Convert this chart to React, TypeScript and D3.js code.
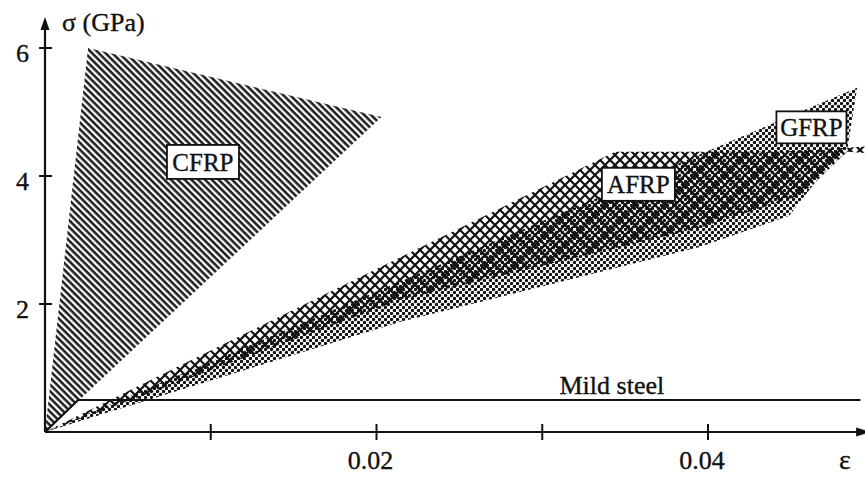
import React from "react";
import * as d3 from "d3";

// strain (-) / stress (GPa) values
const strainTicks = [0.01, 0.02, 0.03, 0.04];
const strainTickLabels = ["", "0.02", "", "0.04"];
const stressTicks = [2, 4, 6];
const stressTickLabels = ["2", "4", "6"];

const cfrp: [number, number][] = [
  [0, 0],
  [0.0026, 6.0],
  [0.0203, 4.92],
];

const afrp: [number, number][] = [
  [0, 0],
  [0.0344, 4.38],
  [0.0442, 4.38],
  [0.0484, 4.44],
  [0.0495, 4.46],
  [0.0495, 4.36],
  [0.0484, 4.38],
  [0.0465, 3.91],
  [0.0456, 3.7],
  [0.0395, 3.19],
  [0.0214, 2.06],
];

const gfrp: [number, number][] = [
  [0, 0],
  [0.049, 5.38],
  [0.0484, 4.41],
  [0.0465, 3.91],
  [0.0449, 3.38],
  [0.0395, 2.89],
  [0.0214, 1.72],
];

const mildSteel: [number, number][] = [
  [0, 0],
  [0.002, 0.5],
  [0.0492, 0.5],
];

const materials = ["CFRP", "AFRP", "GFRP"];

const W = 865;
const H = 478;
const font = "'Liberation Serif', 'Times New Roman', serif";
const ink = "#111";

export default function App() {
  const x = d3.scaleLinear().domain([0, 0.04]).range([45, 708]);
  const y = d3.scaleLinear().domain([0, 6]).range([432, 48]);

  const area = d3
    .line<[number, number]>()
    .x((d) => x(d[0]))
    .y((d) => y(d[1]))
    .curve(d3.curveLinearClosed);
  const line = d3
    .line<[number, number]>()
    .x((d) => x(d[0]))
    .y((d) => y(d[1]));

  // label boxes: [strain, stress, width, height]
  const boxes: [number, number, number, number][] = [
    [0.00953, 4.22, 72, 34],
    [0.0358, 3.87, 73, 33],
    [0.04624, 4.76, 70, 32],
  ];

  const x0 = x(0);
  const y0 = y(0);
  const xEnd = x(0.0496);
  const yTop = y(6.5);

  const txt = { fill: ink, stroke: ink, strokeWidth: 0.35 };

  return (
    <svg
      width={W}
      height={H}
      style={{ position: "absolute", left: 0, top: 0, background: "#fff" }}
      fontFamily={font}
    >
      <defs>
        <pattern
          id="hatch"
          patternUnits="userSpaceOnUse"
          width={4.8}
          height={4.8}
          patternTransform="rotate(45)"
        >
          <rect width={4.8} height={4.8} fill="#fff" />
          <line x1={0} y1={1.3} x2={4.8} y2={1.3} stroke="#1a1a1a" strokeWidth={2.5} />
        </pattern>
        <pattern id="cross" patternUnits="userSpaceOnUse" width={10} height={10}>
          <path d="M0,0L10,10M10,0L0,10" stroke="#111" strokeWidth={2.2} />
        </pattern>
        <pattern id="dots" patternUnits="userSpaceOnUse" width={6} height={6}>
          <rect width={6} height={6} fill="#fff" />
          <circle cx={1.5} cy={1.5} r={1.7} fill="#111" />
          <circle cx={4.5} cy={4.5} r={1.7} fill="#111" />
        </pattern>
      </defs>

      {/* regions */}
      <path d={area(gfrp) ?? ""} fill="url(#dots)" />
      <path d={area(afrp) ?? ""} fill="url(#cross)" />
      <path d={area(cfrp) ?? ""} fill="url(#hatch)" />

      {/* mild steel */}
      <path d={line(mildSteel) ?? ""} fill="none" stroke={ink} strokeWidth={2.2} />
      <text x={x(0.0342)} y={y(0.6)} textAnchor="middle" fontSize={26} {...txt}>
        Mild steel
      </text>

      {/* axes */}
      <line x1={x0} y1={y0} x2={x0} y2={yTop + 8} stroke={ink} strokeWidth={2.2} />
      <path d={`M${x0},${yTop + 1}L${x0 - 4.5},${yTop + 14}L${x0 + 4.5},${yTop + 14}Z`} fill={ink} />
      <line x1={x0} y1={y0} x2={xEnd - 6} y2={y0} stroke={ink} strokeWidth={2.2} />
      <path d={`M${xEnd + 3},${y0}L${xEnd - 11},${y0 - 4.5}L${xEnd - 11},${y0 + 4.5}Z`} fill={ink} />

      {stressTicks.map((t, i) => (
        <g key={t}>
          <line x1={x0 - 6} x2={x0 + 7} y1={y(t)} y2={y(t)} stroke={ink} strokeWidth={2} />
          <text x={29} y={y(t) + 14} textAnchor="end" fontSize={26} {...txt}>
            {stressTickLabels[i]}
          </text>
        </g>
      ))}
      {strainTicks.map((t, i) => (
        <g key={t}>
          <line x1={x(t)} x2={x(t)} y1={y0 - 8} y2={y0 + 8} stroke={ink} strokeWidth={2} />
          <text x={x(t) - 6} y={y0 + 37} textAnchor="middle" fontSize={26} {...txt}>
            {strainTickLabels[i]}
          </text>
        </g>
      ))}

      <text x={62} y={31} fontSize={26} {...txt}>
        σ (GPa)
      </text>
      <text x={845} y={y0 + 37} textAnchor="middle" fontSize={28} {...txt}>
        ε
      </text>

      {/* material labels */}
      {materials.map((m, i) => {
        const [bx, by, bw, bh] = boxes[i];
        const cx = x(bx);
        const cy = y(by);
        return (
          <g key={m}>
            <rect
              x={cx - bw / 2}
              y={cy - bh / 2}
              width={bw}
              height={bh}
              fill="#fff"
              stroke={ink}
              strokeWidth={1.8}
            />
            <text x={cx} y={cy + 9} textAnchor="middle" fontSize={25} {...txt}>
              {m}
            </text>
          </g>
        );
      })}
    </svg>
  );
}
